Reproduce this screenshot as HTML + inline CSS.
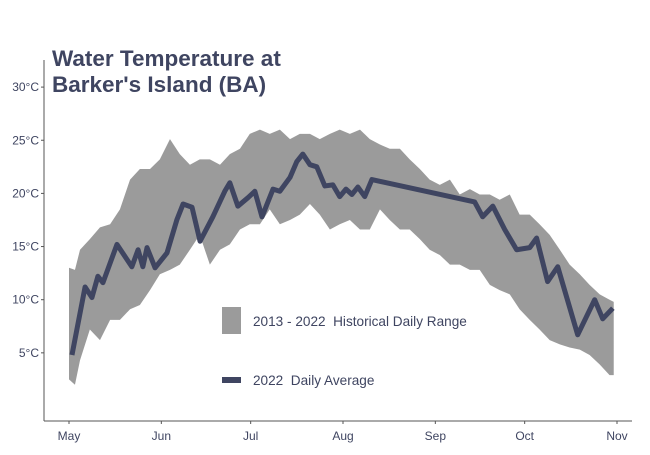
<!DOCTYPE html>
<html><head><meta charset="utf-8"><style>
body{margin:0;background:#fff;}
svg text{font-family:"Liberation Sans",sans-serif;white-space:pre;}
</style></head><body>
<svg id="chart" width="650" height="450">
<text x="52" y="66" font-size="22.5" font-weight="bold" fill="#3f4561">Water Temperature at</text>
<text x="52" y="92" font-size="22.5" font-weight="bold" fill="#3f4561">Barker's Island (BA)</text>
<g id="plot"></g>
<line x1="44" y1="60" x2="44" y2="421" stroke="#555" stroke-width="1"/>
<line x1="44" y1="421" x2="632" y2="421" stroke="#555" stroke-width="1"/>
<g id="axes"></g>
<rect x="222" y="307" width="19" height="27" fill="#9b9b9b"/>
<text x="253" y="326" font-size="13.6" fill="#3f4561" xml:space="preserve">2013 - 2022  Historical Daily Range</text>
<rect x="222" y="377" width="19" height="6" fill="#3f4561"/>
<text x="253" y="385" font-size="13.6" fill="#3f4561" xml:space="preserve">2022  Daily Average</text>
</svg>
<script>
const bandDays=[0,2,3.7,7,10.4,13.8,17.1,20.5,23.8,27.2,30.5,33.9,37.2,40.6,43.9,47.3,50.7,54,57.4,60.7,64.1,67.4,70.8,74.2,77.5,80.9,84.2,87.6,90.9,94.3,97.7,101,104.4,107.7,111.1,114.4,117.8,121.1,124.5,127.9,131.2,134.6,137.9,141.3,144.6,148,151.3,154.7,158,161.4,164.8,168.1,171.5,174.8,178.2,181.5,182.9];
const bandHigh=[13.0,12.8,14.7,15.7,16.8,17.1,18.5,21.3,22.3,22.3,23.2,25.1,23.7,22.7,23.2,23.2,22.7,23.7,24.2,25.6,26.0,25.6,26.0,25.1,25.6,25.6,25.1,25.6,26.0,25.6,26.0,25.1,24.6,24.2,24.2,23.2,22.3,21.3,20.8,21.3,19.9,20.4,19.9,19.9,19.4,19.9,18.0,18.0,17.1,16.1,14.7,13.3,12.4,11.4,10.5,10.0,9.8];
const bandLow=[2.5,2.0,4.3,7.2,6.2,8.1,8.1,9.1,9.5,10.9,12.4,12.8,13.3,14.7,16.1,13.3,14.7,15.2,16.6,17.1,17.1,18.5,17.1,17.5,18.0,19.0,18.0,16.6,17.1,17.5,16.6,16.6,18.5,17.5,16.6,16.6,15.7,14.7,14.2,13.3,13.3,12.8,12.8,11.4,10.9,10.5,9.1,8.1,7.2,6.2,5.8,5.5,5.3,4.8,3.9,2.9,2.9];
const avgDays=[1,5.4,7.7,9.7,11.4,16.1,21.1,23.2,24.8,26.2,28.9,32.9,36.2,38.3,41.3,44.0,48.3,52.3,54.0,56.7,60.1,62.4,64.8,68.5,70.8,74.2,76.5,78.5,80.9,83.2,85.9,88.6,90.9,93,95,97,99.3,101.7,136.2,138.9,142.3,146.3,150.3,154.7,157,160.7,164.1,170.8,176.5,179.2,182.6];
const avgTemp=[4.8,11.2,10.2,12.2,11.6,15.2,13.1,14.7,13.1,14.9,13.0,14.4,17.5,19.0,18.7,15.5,17.8,20.2,21.0,18.8,19.6,20.2,17.8,20.4,20.2,21.5,23.0,23.7,22.7,22.5,20.7,20.8,19.7,20.4,19.9,20.6,19.7,21.3,19.2,17.8,18.8,16.6,14.7,14.9,15.8,11.7,13.1,6.7,10.0,8.2,9.2];
const yTicks=[5,10,15,20,25,30];
const yTickLabels=["5°C","10°C","15°C","20°C","25°C","30°C"];
const xTickDays=[0,31,61,92,123,153,184];
const xTickLabels=["May","Jun","Jul","Aug","Sep","Oct","Nov"];
const NS="http://www.w3.org/2000/svg";
const xS=d=>69+d*(548/184);
const yS=t=>406-t*10.63;
const plot=document.getElementById('plot'),axes=document.getElementById('axes');
let pts=bandDays.map((d,i)=>xS(d)+','+yS(bandHigh[i]));
for(let i=bandDays.length-1;i>=0;i--)pts.push(xS(bandDays[i])+','+yS(bandLow[i]));
const band=document.createElementNS(NS,'polygon');
band.setAttribute('points',pts.join(' '));band.setAttribute('fill','#9b9b9b');


plot.appendChild(band);
const line=document.createElementNS(NS,'polyline');
line.setAttribute('points',avgDays.map((d,i)=>xS(d)+','+yS(avgTemp[i])).join(' '));
line.setAttribute('fill','none');line.setAttribute('stroke','#3f4561');line.setAttribute('stroke-width','5');line.setAttribute('stroke-linejoin','round');


plot.appendChild(line);
yTicks.forEach((t,i)=>{
 const tk=document.createElementNS(NS,'line');
 tk.setAttribute('x1',41);tk.setAttribute('x2',44);tk.setAttribute('y1',yS(t));tk.setAttribute('y2',yS(t));tk.setAttribute('stroke','#555');
 
 
 axes.appendChild(tk);
 const tx=document.createElementNS(NS,'text');
 tx.setAttribute('x',39);tx.setAttribute('y',yS(t)+4);tx.setAttribute('text-anchor','end');tx.setAttribute('font-size','12');tx.setAttribute('fill','#3f4561');
 tx.textContent=yTickLabels[i];
 
 
 axes.appendChild(tx);
});
xTickDays.forEach((d,i)=>{
 const tk=document.createElementNS(NS,'line');
 tk.setAttribute('x1',xS(d));tk.setAttribute('x2',xS(d));tk.setAttribute('y1',421);tk.setAttribute('y2',424);tk.setAttribute('stroke','#555');
 
 
 axes.appendChild(tk);
 const tx=document.createElementNS(NS,'text');
 tx.setAttribute('x',xS(d));tx.setAttribute('y',440);tx.setAttribute('text-anchor','middle');tx.setAttribute('font-size','12');tx.setAttribute('fill','#3f4561');
 tx.textContent=xTickLabels[i];
 
 
 axes.appendChild(tx);
});
</script>
</body></html>
